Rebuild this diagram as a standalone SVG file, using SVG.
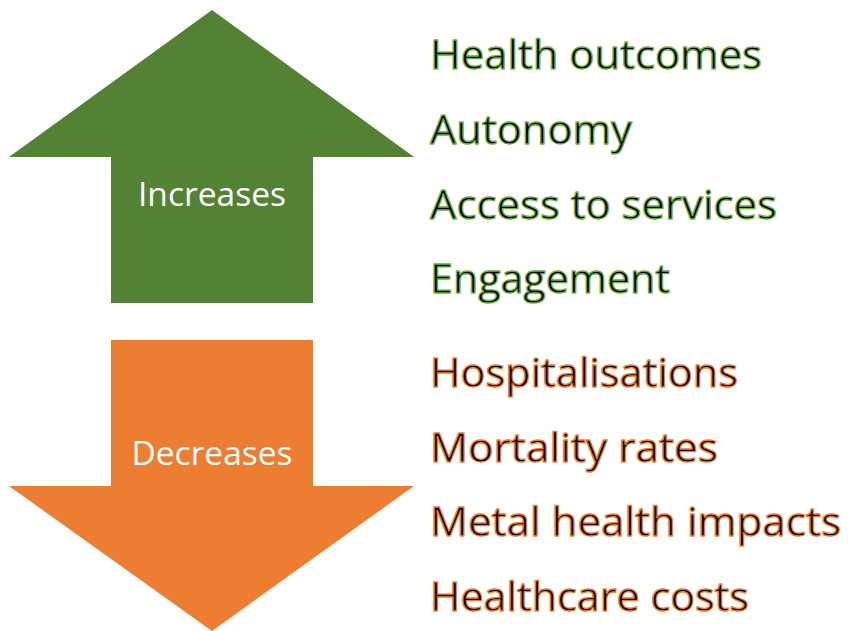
<svg xmlns="http://www.w3.org/2000/svg" width="848" height="631" viewBox="0 0 848 631">
  <style>
    .item { font-family: "Open Sans", "Liberation Sans", sans-serif; font-size: 40px; fill: #000; stroke-width: 1.3; stroke-linejoin: round; }
    .up { stroke: #70AD47; }
    .down { stroke: #ED7D31; }
    .label { font-family: "Open Sans", "Liberation Sans", sans-serif; font-size: 32px; fill: #fff; text-anchor: middle; }
  </style>
  <rect width="848" height="631" fill="#fff"/>
  <g id="increases">
    <polygon points="212,10 414,157 313,157 313,303 111,303 111,157 9,157" fill="#548235"/>
    <text class="label" x="212" y="206" textLength="148" lengthAdjust="spacingAndGlyphs">Increases</text>
  </g>
  <g id="decreases">
    <polygon points="111,340 313,340 313,486 414,486 212,631 9,486 111,486" fill="#ED7D31"/>
    <text class="label" x="212" y="465" textLength="161" lengthAdjust="spacingAndGlyphs">Decreases</text>
  </g>
  <g id="increase-items">
    <text class="item up" x="430" y="69" textLength="332" lengthAdjust="spacingAndGlyphs">Health outcomes</text>
    <text class="item up" x="430" y="144" textLength="202" lengthAdjust="spacingAndGlyphs">Autonomy</text>
    <text class="item up" x="430" y="219" textLength="347" lengthAdjust="spacingAndGlyphs">Access to services</text>
    <text class="item up" x="430" y="293" textLength="240" lengthAdjust="spacingAndGlyphs">Engagement</text>
  </g>
  <g id="decrease-items">
    <text class="item down" x="430" y="387" textLength="308" lengthAdjust="spacingAndGlyphs">Hospitalisations</text>
    <text class="item down" x="430" y="462" textLength="288" lengthAdjust="spacingAndGlyphs">Mortality rates</text>
    <text class="item down" x="430" y="536" textLength="411" lengthAdjust="spacingAndGlyphs">Metal health impacts</text>
    <text class="item down" x="430" y="611" textLength="319" lengthAdjust="spacingAndGlyphs">Healthcare costs</text>
  </g>
  <g id="connectors"/>
</svg>
